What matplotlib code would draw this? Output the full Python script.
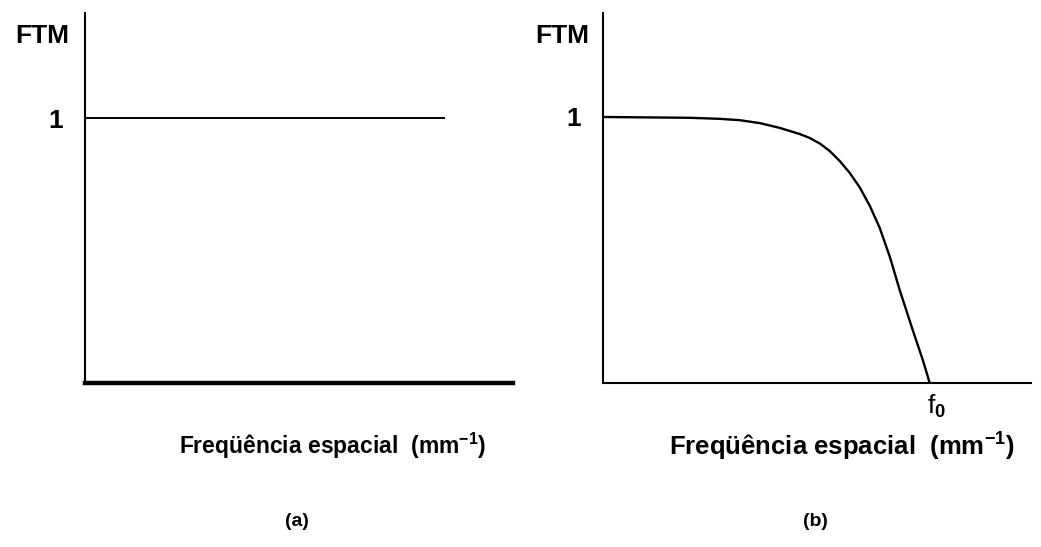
import numpy as np
import matplotlib
matplotlib.use("Agg")
import matplotlib.pyplot as plt

plt.rcParams['font.family'] = ['Liberation Sans', 'DejaVu Sans']
plt.rcParams['mathtext.fontset'] = 'custom'
plt.rcParams['mathtext.rm'] = 'Liberation Sans:bold'
plt.rcParams['mathtext.default'] = 'rm'

# (a) ideal MTF: constant 1
freq_a = [0.0, 1.10]
ftm_a = [1.0, 1.0]

# (b) real MTF, falls to 0 at f0 (f0 = 1)
freq_b = [0.0, 0.266, 0.358, 0.419, 0.480, 0.541, 0.602, 0.633, 0.664, 0.694,
          0.725, 0.755, 0.786, 0.817, 0.847, 0.878, 0.908, 0.948, 0.979, 1.0]
ftm_b = [1.0, 0.997, 0.993, 0.988, 0.977, 0.959, 0.936, 0.921, 0.900, 0.872,
         0.834, 0.790, 0.735, 0.665, 0.583, 0.474, 0.350, 0.199, 0.086, 0.0]

W, H = 1041, 547
fig = plt.figure(figsize=(W / 100, H / 100), dpi=100)


def make_axes(x0, top, bottom, width, y1, xw):
    ax = fig.add_axes([x0 / W, 1 - bottom / H, width / W, (bottom - top) / H])
    ax.set_xlim(0, 1.31)
    ax.set_ylim(0, (bottom - top) / (bottom - y1))
    for s in ['top', 'right']:
        ax.spines[s].set_visible(False)
    ax.spines['left'].set_linewidth(1.5)
    ax.spines['bottom'].set_linewidth(xw)
    ax.set_xticks([])
    ax.set_yticks([1])
    ax.set_yticklabels(['1'], fontsize=19, fontweight='bold')
    ax.tick_params(axis='y', length=0, pad=16)
    return ax


ax1 = make_axes(85, 13, 383, 428, 118, 3.2)
ax1.plot(freq_a, ftm_a, color='black', lw=1.4)

ax2 = make_axes(603, 13, 383, 428, 117, 1.5)
ax2.plot(freq_b, ftm_b, color='black', lw=1.7, solid_joinstyle='round')
ax2.text(1.02, -0.035, r'f$_0$', fontsize=19, ha='center', va='top')

fig.text(42 / W, 1 - 36 / H, 'FTM', fontsize=19, fontweight='bold', ha='center', va='center')
fig.text(562 / W, 1 - 36 / H, 'FTM', fontsize=19, fontweight='bold', ha='center', va='center')

xlab = 'Freqüência espacial  (mm$^{-1}$)'
fig.text(333 / W, 1 - 446 / H, xlab, fontsize=16.5, fontweight='bold', ha='center', va='center')
fig.text(842 / W, 1 - 447 / H, xlab, fontsize=18.5, fontweight='bold', ha='center', va='center')

fig.text(297 / W, 1 - 522 / H, '(a)', fontsize=14, fontweight='bold', ha='center', va='center')
fig.text(815 / W, 1 - 522 / H, '(b)', fontsize=14, fontweight='bold', ha='center', va='center')

fig.savefig('out.png', dpi=100)
